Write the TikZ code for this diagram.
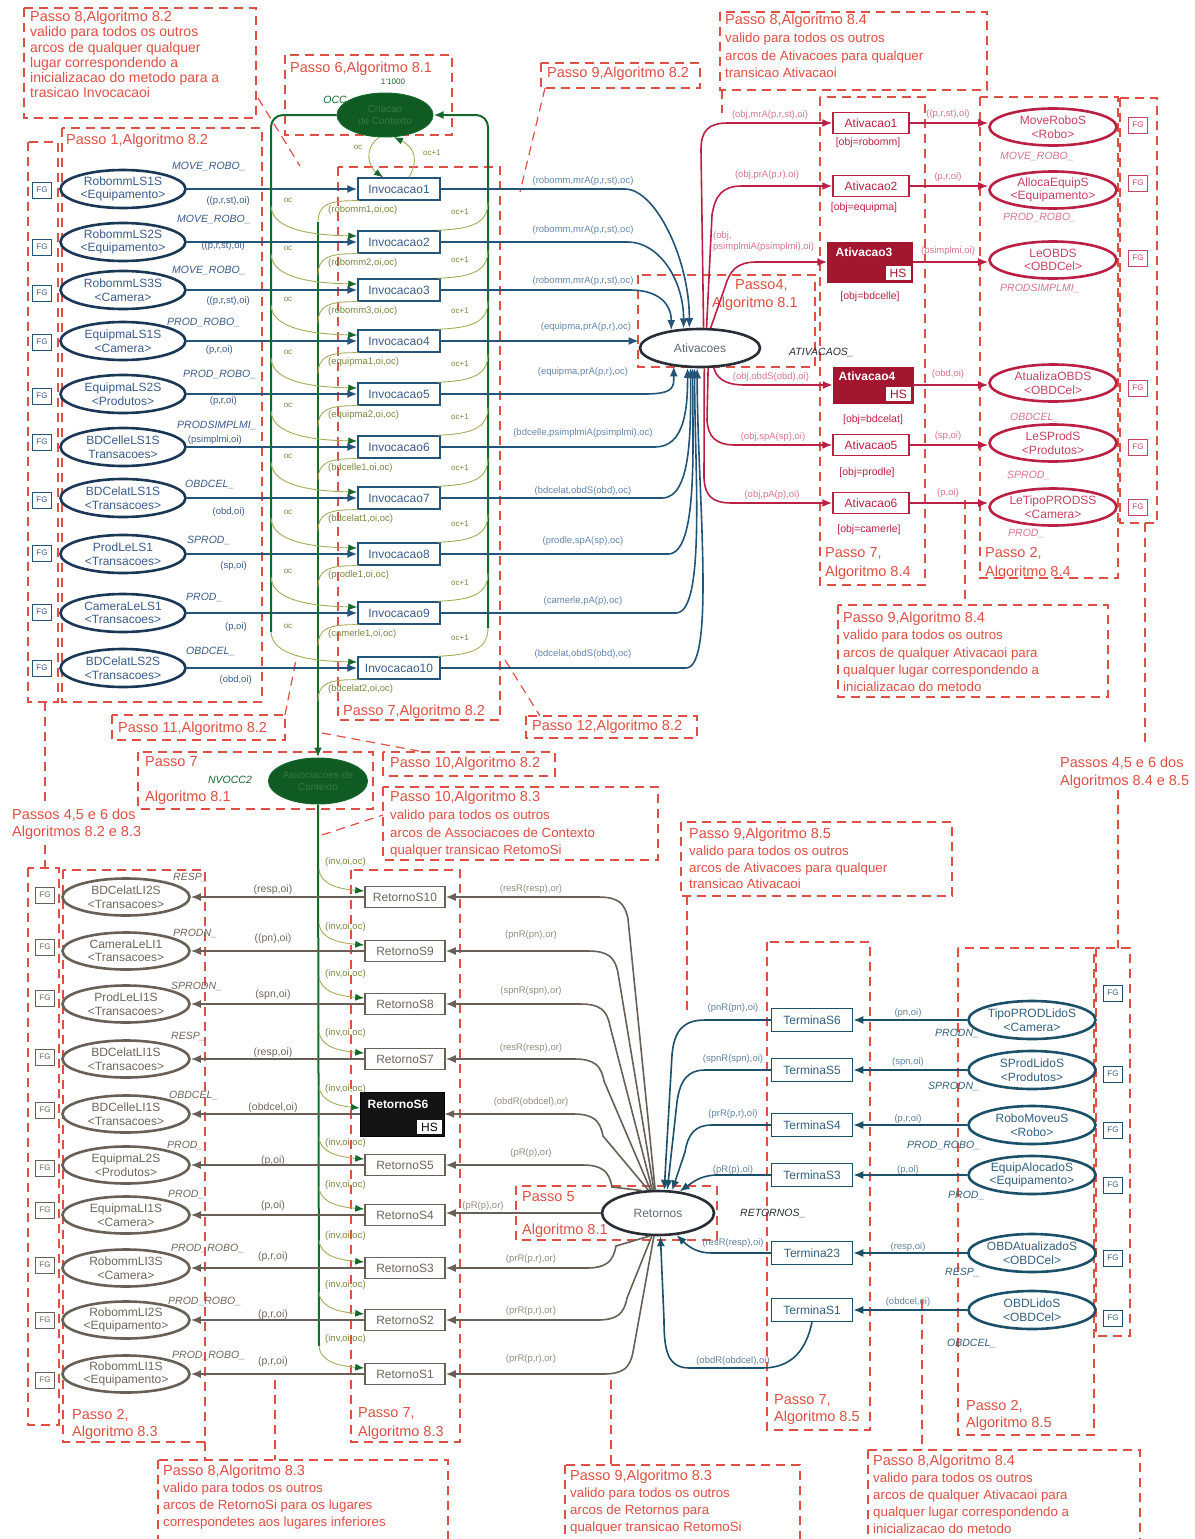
\documentclass[tikz,border=0pt]{standalone}
\usepackage{fontspec}
\setmainfont{Liberation Sans}
\usetikzlibrary{shapes.geometric,calc,arrows.meta}

\definecolor{anno}{RGB}{222,80,68}
\definecolor{bluePl}{RGB}{26,56,86}
\definecolor{blueTx}{RGB}{58,92,138}
\definecolor{blueArc}{RGB}{36,84,120}
\definecolor{blueLbl}{RGB}{100,135,175}
\definecolor{gDark}{RGB}{22,105,45}
\definecolor{gFill}{RGB}{16,90,36}
\definecolor{gTxt}{RGB}{52,122,68}
\definecolor{olive}{RGB}{165,172,88}
\definecolor{oliveTx}{RGB}{125,135,65}
\definecolor{crim}{RGB}{186,32,68}
\definecolor{crimFill}{RGB}{162,22,48}
\definecolor{crimTx}{RGB}{196,68,98}
\definecolor{crimLbl}{RGB}{214,118,140}
\definecolor{brn}{RGB}{104,96,86}
\definecolor{brnTx}{RGB}{112,102,92}
\definecolor{brnLbl}{RGB}{150,140,130}
\definecolor{tealc}{RGB}{28,80,105}
\definecolor{tealTx}{RGB}{52,96,126}
\definecolor{tealLbl}{RGB}{96,132,158}
\definecolor{dk}{RGB}{40,46,52}
\definecolor{midTx}{RGB}{95,105,115}

\newcommand\fzAnnoT{\fontsize{14.5}{17.5}\selectfont}
\newcommand\fzAnno{\fontsize{13.3}{17.5}\selectfont}
\newcommand\fzNode{\fontsize{12}{13.5}\selectfont}
\newcommand\fzType{\fontsize{10.5}{12}\selectfont\itshape}
\newcommand\fzIns{\fontsize{9.5}{11}\selectfont}
\newcommand\fzTiny{\fontsize{8}{9}\selectfont}
\newcommand\fzSmall{\fontsize{10}{11.5}\selectfont}

\begin{document}
\begin{tikzpicture}[x=1pt,y=-1pt,
  annobox/.style={draw=anno,line width=1.2pt,dash pattern=on 9pt off 6pt},
  annotxt/.style={text=anno,anchor=north west,inner sep=0pt,align=left,font=\fzAnno},
  annottl/.style={annotxt,font=\fzAnnoT},
  pplace/.style={ellipse,line width=2.6pt,minimum width=125pt,minimum height=38pt,inner sep=0pt,align=center,font=\fzNode,fill=white},
  ttrans/.style={rectangle,line width=1.5pt,minimum width=82pt,minimum height=22pt,inner sep=0pt,font=\fzNode,fill=white},
  fgbox/.style={rectangle,line width=0.7pt,minimum width=19pt,minimum height=16pt,inner sep=0pt,font=\fzTiny,fill=white},
  typelbl/.style={font=\fzType,inner sep=0pt,anchor=west},
  inslbl/.style={font=\fzIns,inner sep=0pt},
  netarc/.style={line width=1.6pt,-{Latex[length=10pt,width=8pt]}},
  thinnet/.style={line width=0.9pt,draw=olive,-{Latex[length=9pt,width=7pt,color=gDark]}},
  thinline/.style={line width=0.9pt,draw=olive},
  bus/.style={line width=2pt,draw=gDark},
  hsbox/.style={fill=white,minimum width=25pt,minimum height=14pt,inner sep=0pt,font=\fzNode,anchor=south east},
  fused/.style={ellipse,draw=gDark,fill=gFill,line width=1pt,inner sep=0pt,align=center,text=gTxt,font=\fzSmall},
  hub/.style={ellipse,draw=dk,line width=2.6pt,fill=white,inner sep=0pt,text=midTx,font=\fzNode},
  octxt/.style={font=\fzTiny,text=oliveTx,inner sep=0pt}
]
\useasboundingbox (0,0) rectangle (1194,1539);
\fill[white] (0,0) rectangle (1194,1539);

% ---------- dashed frames of the algorithm steps ----------
\draw[annobox] (24,8) rectangle (256,118);
\draw[annobox] (285,55) rectangle (452,135);
\draw[annobox] (62,128) rectangle (262,702);
\draw[annobox] (28,142) rectangle (58,702);
\draw[annobox] (541,63) rectangle (700,88);
\draw[annobox] (720,12) rectangle (987,90);
\draw[annobox] (638,275) rectangle (815,367);
\draw[annobox] (820,97) rectangle (925,585);
\draw[annobox] (980,97) rectangle (1118,578);
\draw[annobox] (1120,98) rectangle (1157,523);
\draw[annobox] (838,605) rectangle (1108,697);
\draw[annobox] (338,167) rectangle (500,720);
\draw[annobox] (112,715) rectangle (285,740);
\draw[annobox] (526,716) rectangle (697,738);
\draw[annobox] (138,752) rectangle (373,809);
\draw[annobox] (383,752) rectangle (555,776);
\draw[annobox] (383,787) rectangle (658,860);
\draw[annobox] (681,822) rectangle (952,896);
\draw[annobox] (28,868) rectangle (59,1425);
\draw[annobox] (63,870) rectangle (205,1442);
\draw[annobox] (351,870) rectangle (460,1442);
\draw[annobox] (516,1186) rectangle (717,1240);
\draw[annobox] (767,942) rectangle (870,1430);
\draw[annobox] (958,948) rectangle (1094,1435);
\draw[annobox] (1096,948) rectangle (1130,1336);
\draw[annobox] (158,1460) rectangle (448,1550);
\draw[annobox] (565,1465) rectangle (800,1550);
\draw[annobox] (868,1450) rectangle (1140,1550);
% leader lines
\draw[annobox] (258,98) -- (300,166);
\draw[annobox] (545,88) -- (520,192);
\draw[annobox] (722,90) -- (722,113);
\draw[annobox] (285,715) -- (297,655);
\draw[annobox] (505,660) -- (540,716);
\draw[annobox] (322,733) -- (424,752);
\draw[annobox] (322,835) -- (383,815);
\draw[annobox] (45,702) -- (45,803);
\draw[annobox] (45,845) -- (45,868);
\draw[annobox] (1145,523) -- (1145,748);
\draw[annobox] (1118,790) -- (1118,948);
\draw[annobox] (965,500) -- (965,605);
\draw[annobox] (687,896) -- (687,1010);
\draw[annobox] (275,1380) -- (275,1460);
\draw[annobox] (611,1380) -- (611,1465);
\draw[annobox] (922,1300) -- (922,1450);
\draw[annobox] (205,1442) -- (205,1460);

% ---------- step texts ----------
\node[annotxt,font=\fontsize{14}{15.2}\selectfont] (n1) at (30,11) {{\fontsize{14.5}{15.2}\selectfont Passo 8,Algoritmo 8.2}\\valido para todos os outros\\arcos de qualquer qualquer\\lugar correspondendo a\\inicializacao do metodo para a\\trasicao Invocacaoi};
\node[annottl] (n2) at (290,62) {Passo 6,Algoritmo 8.1};
\node[annottl] (n3) at (66,134) {Passo 1,Algoritmo 8.2};
\node[annottl] (n4) at (547,67) {Passo 9,Algoritmo 8.2};
\node[annotxt,font=\fontsize{13.3}{17.7}\selectfont] (n5) at (725,14) {{\fzAnnoT Passo 8,Algoritmo 8.4}\\valido para todos os outros\\arcos de Ativacoes para qualquer\\transicao Ativacaoi};
\node[annottl] (n6) at (735,279) {Passo4,};
\node[annottl] (n6b) at (712,297) {Algoritmo 8.1};
\node[annottl,font=\fontsize{14.5}{19.5}\selectfont] (n7) at (825,547) {Passo 7,\\Algoritmo 8.4};
\node[annottl,font=\fontsize{14.5}{19.5}\selectfont] (n8) at (985,547) {Passo 2,\\Algoritmo 8.4};
\node[annotxt,font=\fontsize{13.3}{17.2}\selectfont] (n9) at (843,612) {{\fzAnnoT Passo 9,Algoritmo 8.4}\\valido para todos os outros\\arcos de qualquer Ativacaoi para\\qualquer lugar correspondendo a\\inicializacao do metodo};
\node[annottl] (n10) at (343,705) {Passo 7,Algoritmo 8.2};
\node[annottl] (n11) at (118,722) {Passo 11,Algoritmo 8.2};
\node[annottl] (n12) at (532,720) {Passo 12,Algoritmo 8.2};
\node[annottl] (n13) at (145,756) {Passo 7};
\node[annottl] (n13b) at (145,791) {Algoritmo 8.1};
\node[annottl] (n14) at (390,757) {Passo 10,Algoritmo 8.2};
\node[annotxt,font=\fontsize{13.3}{17.7}\selectfont] (n15) at (390,791) {{\fzAnnoT Passo 10,Algoritmo 8.3}\\valido para todos os outros\\arcos de Associacoes de Contexto\\qualquer transicao RetomoSi};
\node[annottl,font=\fontsize{14.5}{17}\selectfont] (n16) at (12,809) {Passos 4,5 e 6 dos\\Algoritmos 8.2 e 8.3};
\node[annottl,font=\fontsize{14.5}{18}\selectfont] (n17) at (1060,757) {Passos 4,5 e 6 dos\\Algoritmos 8.4 e 8.5};
\node[annotxt,font=\fontsize{13.3}{16.7}\selectfont] (n18) at (689,828) {{\fzAnnoT Passo 9,Algoritmo 8.5}\\valido para todos os outros\\arcos de Ativacoes para qualquer\\transicao Ativacaoi};
\node[annottl] (n19) at (522,1191) {Passo 5};
\node[annottl] (n19b) at (522,1224) {Algoritmo 8.1};
\node[annottl,font=\fontsize{14.5}{17}\selectfont] (n20) at (72,1409) {Passo 2,\\Algoritmo 8.3};
\node[annottl,font=\fontsize{14.5}{19}\selectfont] (n21) at (358,1407) {Passo 7,\\Algoritmo 8.3};
\node[annottl,font=\fontsize{14.5}{17}\selectfont] (n22) at (774,1394) {Passo 7,\\Algoritmo 8.5};
\node[annottl,font=\fontsize{14.5}{17}\selectfont] (n23) at (966,1400) {Passo 2,\\Algoritmo 8.5};
\node[annotxt,font=\fontsize{13.3}{17}\selectfont] (n24) at (163,1465) {{\fzAnnoT Passo 8,Algoritmo 8.3}\\valido para todos os outros\\arcos de RetornoSi para os lugares\\correspondetes aos lugares inferiores};
\node[annotxt,font=\fontsize{13.3}{17}\selectfont] (n25) at (570,1470) {{\fzAnnoT Passo 9,Algoritmo 8.3}\\valido para todos os outros\\arcos de Retornos para\\qualquer transicao RetomoSi};
\node[annotxt,font=\fontsize{13.3}{17}\selectfont] (n26) at (873,1455) {{\fzAnnoT Passo 8,Algoritmo 8.4}\\valido para todos os outros\\arcos de qualquer Ativacaoi para\\qualquer lugar correspondendo a\\inicializacao do metodo};

% ---------- context places ----------
\node[fused,minimum width=96pt,minimum height=44pt] (ctx) at (385,115) {Criacao\\de Contexto};
\node[font=\fzTiny,text=gDark,inner sep=0pt] (ctxinit) at (393,82) {1'1000};
\node[font=\fzType,text=gDark,inner sep=0pt] (occ) at (335,100) {OCC};
\node[fused,minimum width=96pt,minimum height=46pt] (asc) at (318,781) {Associacoes de\\Contexto};
\node[font=\fzType,text=gDark,inner sep=0pt] (nvocc) at (230,780) {NVOCC2};

% ---------- invocation side ----------
\foreach \i/\yy/\pn/\ptyp/\tlab/\tlx/\tly/\insc/\insx/\insy/\fgy in {
 1/189/RobommLS1S/{<Equipamento>}/{MOVE\_ROBO\_}/172/166/{((p,r,st),oi)}/250/201/190,
 2/242/RobommLS2S/{<Equipamento>}/{MOVE\_ROBO\_}/177/219/{((p,r,st),oi)}/245/246/247,
 3/290/RobommLS3S/{<Camera>}/{MOVE\_ROBO\_}/172/270/{((p,r,st),oi)}/250/301/293,
 4/341/EquipmaLS1S/{<Camera>}/{PROD\_ROBO\_}/167/322/{(p,r,oi)}/233/350/342,
 5/394/EquipmaLS2S/{<Produtos>}/{PROD\_ROBO\_}/183/374/{(p,r,oi)}/237/401/396,
 6/447/BDCelleLS1S/{Transacoes>}/{PRODSIMPLMI\_}/177/425/{(psimplmi,oi)}/242/440/442,
 7/498/BDCelatLS1S/{<Transacoes>}/{OBDCEL\_}/185/484/{(obd,oi)}/245/512/500,
 8/554/ProdLeLS1/{<Transacoes>}/{SPROD\_}/187/540/{(sp,oi)}/247/566/553,
 9/613/CameraLeLS1/{<Transacoes>}/{PROD\_}/186/597/{(p,oi)}/247/627/612,
 10/668/BDCelatLS2S/{<Transacoes>}/{OBDCEL\_}/186/651/{(obd,oi)}/252/680/668}
{
  \node[pplace,draw=bluePl,text=blueTx] (pl\i) at (123,\yy) {\pn\\\ptyp};
  \node[ttrans,draw=blueArc,text=blueTx] (inv\i) at (399,\yy) {Invocacao\i};
  \node[fgbox,draw=blueArc,text=blueTx] (fgl\i) at (42,\fgy) {FG};
  \node[typelbl,text=blueTx] (tyl\i) at (\tlx,\tly) {\tlab};
  \node[inslbl,text=blueTx,anchor=east] (inl\i) at (\insx,\insy) {\insc};
  \draw[netarc,draw=blueArc] (pl\i.east) -- (inv\i.west);
}

\node[hub,minimum width=120pt,minimum height=38pt] (atv) at (700,348) {Ativacoes};
\node[font=\fzType,text=dk,inner sep=0pt,anchor=west] (atvtype) at (789,352) {ATIVACAOS\_};

% green buses of the context places
\draw[bus,rounded corners=12] (ctx.west) -- (271,115) -- (271,632);
\draw[bus,rounded corners=12,-{Latex[length=10pt,width=8pt]}] (488,628) -- (488,115) -- (ctx.east);
\draw[bus,-{Latex[length=10pt,width=8pt]}] (318,222) -- (asc.north);
\draw[bus] (asc.south) -- (319,1346);

\draw[thinnet] (ctx.255) .. controls (362,150) and (370,168) .. ($(inv1.north)+(-16,0)$);
\draw[thinnet] ($(inv1.north)+(10,0)$) .. controls (418,162) and (416,148) .. (ctx.292);
\node[octxt] (oc1) at (358,147) {oc};
\node[octxt] (ocp1) at (432,153) {oc+1};

\foreach \i/\yy in {2/242,3/290,4/341,5/394,6/447,7/498,8/554,9/613,10/668}{
  \draw[thinnet] (271,{\yy-36}) .. controls (272,{\yy-16}) and (300,{\yy-7}) .. ($(inv\i.west)+(0,-6)$);
  \node[octxt] (oc\i) at (288,{\yy-42}) {oc};
  \draw[thinline] ($(inv\i.north east)+(-3,0)$) .. controls (470,{\yy-13}) and (488,{\yy-18}) .. (488,{\yy-40});
  \node[octxt] (ocp\i) at (460,{\yy-30}) {oc+1};
}
\foreach \i/\yy/\lab in {1/189/robomm1,2/242/robomm2,3/290/robomm3,4/341/equipma1,5/394/equipma2,6/447/bdcelle1,7/498/bdcelat1,8/554/prodle1,9/613/camerle1,10/668/bdcelat2}{
  \draw[thinline] ($(inv\i.south west)+(2,0)$) .. controls (328,{\yy+11}) and (318,{\yy+16}) .. (318,{\yy+33});
  \node[octxt,anchor=west,font=\fzIns] (out\i) at (328,{\yy+21}) {(\lab,oi,oc)};
}

% invocations into the activation place
\foreach \i/\yy/\cx/\ang/\dd/\lab/\ly in {
 1/189/625/118/-70/{(robomm,mrA(p,r,st),oc)}/181,
 2/242/628/130/-50/{(robomm,mrA(p,r,st),oc)}/230,
 3/290/630/148/-25/{(robomm,mrA(p,r,st),oc)}/281,
 5/394/645/215/20/{(equipma,prA(p,r),oc)}/372,
 6/447/655/238/40/{(bdcelle,psimplmiA(psimplmi),oc)}/433,
 7/498/662/245/60/{(bdcelat,obdS(obd),oc)}/491,
 8/554/668/250/80/{(prodle,spA(sp),oc)}/541,
 9/613/676/255/100/{(camerle,pA(p),oc)}/601,
 10/668/686/262/120/{(bdcelat,obdS(obd),oc)}/654}
{
  \draw[netarc,draw=blueArc] (inv\i.east) -- (\cx,\yy) .. controls ({\cx+30},\yy) and ($(atv.\ang)+(0,\dd)$) .. (atv.\ang);
  \node[inslbl,text=blueLbl] (ml\i) at (583,\ly) {\lab};
}
\draw[netarc,draw=blueArc] (inv4.east) -- (inv4.east -| atv.west);
\node[inslbl,text=blueLbl] (ml4) at (586,327) {(equipma,prA(p,r),oc)};

% ---------- activation side ----------
\foreach \i/\yy in {1/123,2/186,5/445,6/503}{
  \node[ttrans,draw=crim,text=crim,minimum width=76pt,minimum height=21pt] (at\i) at (871,\yy) {Ativacao\i};
}
\node[draw=crimFill,fill=crimFill,minimum width=85pt,minimum height=40pt,inner sep=0pt] (at3) at (870,262) {};
\node[font=\fzNode\bfseries,text=white,inner sep=0pt] (at3t) at (864,252) {Ativacao3};
\node[hsbox,text=crimFill] (at3hs) at ($(at3.south east)+(-2,-2)$) {HS};
\node[draw=crimFill,fill=crimFill,minimum width=80pt,minimum height=36pt,inner sep=0pt] (at4) at (873,385) {};
\node[font=\fzNode\bfseries,text=white,inner sep=0pt] (at4t) at (867,376) {Ativacao4};
\node[hsbox,text=crimFill] (at4hs) at ($(at4.south east)+(-2,-2)$) {HS};
\foreach \i/\g/\gx/\gy in {1/{[obj=robomm]}/868/143,2/{[obj=equipma]}/864/208,3/{[obj=bdcelle]}/870/297,4/{[obj=bdcelat]}/873/420,5/{[obj=prodle]}/867/473,6/{[obj=camerle]}/869/530}{
  \node[font=\fontsize{10.5}{12}\selectfont,text=crim,inner sep=0pt] (gd\i) at (\gx,\gy) {\g};
}

\foreach \i/\yy/\pn/\ptyp/\tlab/\tlx/\tly/\insc/\insy/\fgy in {
 1/127/MoveRoboS/{<Robo>}/{MOVE\_ROBO\_}/1000/156/{((p,r,st),oi)}/114/125,
 2/190/AllocaEquipS/{<Equipamento>}/{PROD\_ROBO\_}/1003/217/{(p,r,oi)}/177/183,
 3/260/LeOBDS/{<OBDCel>}/{PRODSIMPLMI\_}/1000/288/{(psimplmi,oi)}/251/258,
 4/383/AtualizaOBDS/{<OBDCel>}/{OBDCEL\_}/1010/417/{(obd,oi)}/374/388,
 5/443/LeSProdS/{<Produtos>}/{SPROD\_}/1007/475/{(sp,oi)}/436/447,
 6/507/LeTipoPRODSS/{<Camera>}/{PROD\_}/1008/533/{(p,oi)}/493/507}
{
  \node[pplace,draw=crim,text=crimTx,minimum width=127pt,minimum height=37pt] (rp\i) at (1053,\yy) {\pn\\\ptyp};
  \node[fgbox,draw=crimTx,text=crimTx] (fgr\i) at (1138,\fgy) {FG};
  \node[typelbl,text=crimLbl] (tyr\i) at (\tlx,\tly) {\tlab};
  \node[inslbl,text=crimLbl] (inr\i) at (948,\insy) {\insc};
  \draw[netarc,draw=crim] (at\i.east) -- (at\i.east -| rp\i.west);
}

\draw[netarc,draw=crim] (atv.80) -- (701,150) .. controls (701,131) and (708,123) .. (728,123) -- (at1.west);
\draw[netarc,draw=crim] (atv.72) -- (712,215) .. controls (715,196) and (722,186) .. (742,186) -- (at2.west);
\draw[netarc,draw=crim] (atv.62) -- (725,287) .. controls (730,270) and (737,262) .. (757,262) -- (at3.west);
\draw[netarc,draw=crim] (atv.-55) .. controls (716,376) and (722,385) .. (745,385) -- (at4.west);
\draw[netarc,draw=crim] (atv.-68) -- (707,420) .. controls (708,437) and (716,445) .. (735,445) -- (at5.west);
\draw[netarc,draw=crim] (atv.-78) -- (704,478) .. controls (705,496) and (712,503) .. (732,503) -- (at6.west);
\node[inslbl,text=crimLbl] (cl1) at (770,115) {(obj,mrA(p,r,st),oi)};
\node[inslbl,text=crimLbl] (cl2) at (767,175) {(obj,prA(p,r),oi)};
\node[inslbl,text=crimLbl,anchor=north west,align=left] (cl3) at (713,231) {(obj,\\psimplmiA(psimplmi),oi)};
\node[inslbl,text=crimLbl] (cl4) at (771,377) {(obj,obdS(obd),oi)};
\node[inslbl,text=crimLbl] (cl5) at (773,437) {(obj,spA(sp),oi)};
\node[inslbl,text=crimLbl] (cl6) at (772,495) {(obj,pA(p),oi)};

% ---------- return side (left) ----------
\foreach \i/\yy/\pn/\ptyp/\tlab/\tlx/\tly/\insc/\insy/\fgy in {
 10/897/BDCelatLI2S/{<Transacoes>}/{RESP\_}/173/877/{(resp,oi)}/890/895,
 9/951/CameraLeLI1/{<Transacoes>}/{PRODN\_}/173/933/{((pn),oi)}/939/947,
 8/1004/ProdLeLI1S/{<Transacoes>}/{SPRODN\_}/171/986/{(spn,oi)}/995/998,
 7/1059/BDCelatLI1S/{<Transacoes>}/{RESP\_}/171/1036/{(resp,oi)}/1053/1057,
 6/1114/BDCelleLI1S/{<Transacoes>}/{OBDCEL\_}/169/1095/{(obdcel,oi)}/1108/1110,
 5/1165/EquipmaL2S/{<Produtos>}/{PROD\_}/167/1145/{(p,oi)}/1161/1168,
 4/1215/EquipmaLI1S/{<Camera>}/{PROD\_}/168/1194/{(p,oi)}/1206/1210,
 3/1268/RobommLI3S/{<Camera>}/{PROD\_ROBO\_}/171/1248/{(p,r,oi)}/1257/1265,
 2/1320/RobommLI2S/{<Equipamento>}/{PROD\_ROBO\_}/168/1301/{(p,r,oi)}/1315/1320,
 1/1374/RobommLI1S/{<Equipamento>}/{PROD\_ROBO\_}/172/1355/{(p,r,oi)}/1362/1380}
{
  \node[pplace,draw=brn,text=brnTx,minimum width=127pt,minimum height=37pt] (bl\i) at (126,\yy) {\pn\\\ptyp};
  \node[fgbox,draw=brn,text=brnTx] (fgb\i) at (45,\fgy) {FG};
  \node[typelbl,text=brnTx] (tyb\i) at (\tlx,\tly) {\tlab};
  \node[inslbl,text=brnTx,font=\fontsize{10.5}{12}\selectfont] (inb\i) at (273,\insy) {\insc};
}
\foreach \i/\yy in {10/897,9/951,8/1004,7/1059,5/1165,4/1215,3/1268,2/1320,1/1374}{
  \node[ttrans,draw=brn,text=brnTx,minimum width=80pt,minimum height=21pt] (ret\i) at (405,\yy) {RetornoS\i};
}
\node[draw=black,fill=black!92,minimum width=84pt,minimum height=44pt,inner sep=0pt] (ret6) at (402,1114) {};
\node[font=\fzNode\bfseries,text=white,inner sep=0pt] (ret6t) at (398,1104) {RetornoS6};
\node[hsbox,text=black] (ret6hs) at ($(ret6.south east)+(-2,-2)$) {HS};

\foreach \i in {1,...,10}{
  \draw[netarc,draw=brn] (ret\i.west) -- (bl\i.east);
}
\foreach \i/\yy/\ly in {10/897/862,9/951/927,8/1004/974,7/1059/1033,6/1114/1089,5/1165/1143,4/1215/1185,3/1268/1236,2/1320/1285,1/1374/1339}{
  \draw[thinnet] (319,{\yy-28}) .. controls (320,{\yy-12}) and (340,{\yy-8}) .. ($(ret\i.west)+(0,-6)$);
  \node[octxt,anchor=west,font=\fzIns] (iv\i) at (325,\ly) {(inv,oi,oc)};
}

\node[hub,minimum width=112pt,minimum height=44pt] (rt) at (658,1213) {Retornos};
\node[font=\fzType,text=dk,inner sep=0pt,anchor=west] (rttype) at (740,1213) {RETORNOS\_};

\foreach \i/\yy/\xx/\ang/\lab/\ly in {
 10/897/628/97/{(resR(resp),or)}/889,
 9/951/618/100/{(pnR(pn),or)}/935,
 8/1004/610/104/{(spnR(spn),or)}/991,
 7/1059/604/108/{(resR(resp),or)}/1048,
 6/1114/603/113/{(obdR(obdcel),or)}/1102,
 5/1165/612/125/{(pR(p),or)}/1153}
{
  \draw[netarc,draw=brn] (rt.\ang) -- (\xx,{\yy+22}) .. controls ({\xx-3},{\yy+6}) and ({\xx-10},\yy) .. ({\xx-30},\yy) -- (ret\i.east);
  \node[inslbl,text=brnLbl] (rl\i) at (531,\ly) {\lab};
}
\foreach \i/\yy/\xx/\ang/\lab/\ly in {
 3/1268/616/250/{(prR(p,r),or)}/1259,
 2/1320/627/255/{(prR(p,r),or)}/1311,
 1/1374/633/260/{(prR(p,r),or)}/1359}
{
  \draw[netarc,draw=brn] (rt.\ang) -- (\xx,{\yy-22}) .. controls ({\xx-3},{\yy-6}) and ({\xx-10},\yy) .. ({\xx-30},\yy) -- (ret\i.east);
  \node[inslbl,text=brnLbl] (rl\i) at (531,\ly) {\lab};
}
\draw[netarc,draw=brn] (rt.west) -- (rt.west -| ret4.east);
\node[inslbl,text=brnLbl] (rl4) at (483,1206) {(pR(p),or)};

% ---------- termination side (right) ----------
\foreach \i/\yy/\pn/\ptyp/\tlab/\tlx/\tly/\insc/\insy/\fgy/\rl/\rly in {
 S6/1020/TipoPRODLidoS/{<Camera>}/{PRODN\_}/935/1033/{(pn,oi)}/1013/993/{(pnR(pn),oi)}/1008,
 S5/1070/SProdLidoS/{<Produtos>}/{SPRODN\_}/928/1086/{(spn,oi)}/1062/1074/{(spnR(spn),oi)}/1059,
 S4/1125/RoboMoveuS/{<Robo>}/{PROD\_ROBO\_}/907/1145/{(p,r,oi)}/1119/1130/{(prR(p,r),oi)}/1114,
 S3/1175/EquipAlocadoS/{<Equipamento>}/{PROD\_}/948/1195/{(p,oi)}/1170/1185/{(pR(p),oi)}/1170,
 23/1253/OBDAtualizadoS/{<OBDCel>}/{RESP\_}/945/1272/{(resp,oi)}/1247/1258/{(resR(resp),oi)}/1243,
 S1/1310/OBDLidoS/{<OBDCel>}/{OBDCEL\_}/947/1343/{(obdcel,oi)}/1302/1318/{(obdR(obdcel),oi)}/1361}
{
  \node[pplace,draw=tealc,text=tealTx,minimum width=127pt,minimum height=38pt] (br\i) at (1032,\yy) {\pn\\\ptyp};
  \node[ttrans,draw=tealc,text=tealTx,minimum width=81pt,minimum height=23pt] (te\i) at (812,\yy) {Termina\i};
  \node[fgbox,draw=tealc,text=tealTx] (fgt\i) at (1113,\fgy) {FG};
  \node[typelbl,text=tealTx] (tyt\i) at (\tlx,\tly) {\tlab};
  \node[inslbl,text=tealLbl] (int\i) at (908,\insy) {\insc};
  \node[inslbl,text=tealLbl] (rlt\i) at (733,\rly) {\rl};
  \draw[netarc,draw=tealc] (br\i.west) -- (te\i.east);
}
\draw[netarc,draw=tealc] (teS6.west) -- (705,1020) .. controls (684,1020) and (674,1030) .. (672,1055) -- (rt.75);
\draw[netarc,draw=tealc] (teS5.west) -- (705,1070) .. controls (688,1070) and (680,1080) .. (677,1102) -- (rt.68);
\draw[netarc,draw=tealc] (teS4.west) -- (712,1125) .. controls (695,1125) and (688,1134) .. (685,1152) -- (rt.58);
\draw[netarc,draw=tealc] (teS3.west) -- (715,1175) .. controls (700,1176) and (693,1182) .. (rt.45);
\draw[netarc,draw=tealc] (te23.west) -- (712,1253) .. controls (697,1253) and (689,1247) .. (rt.-50);
\draw[netarc,draw=tealc] (teS1.south) .. controls (806,1350) and (792,1368) .. (762,1368) -- (690,1368) .. controls (668,1368) and (664,1352) .. (664,1320) -- (rt.-84);
\end{tikzpicture}
\end{document}
